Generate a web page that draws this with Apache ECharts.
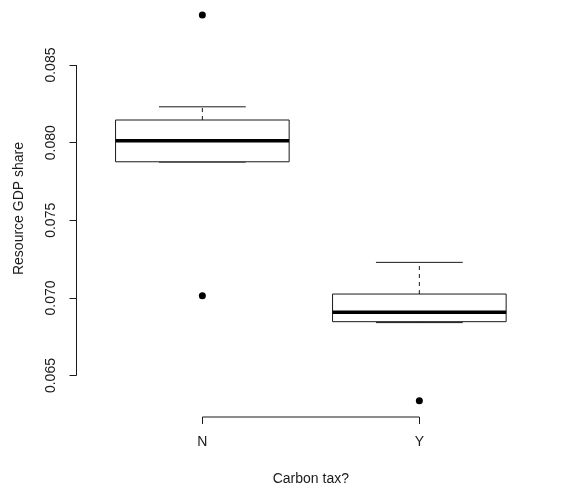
<!DOCTYPE html>
<html>
<head>
<meta charset="utf-8">
<script src="https://cdn.jsdelivr.net/npm/echarts@6/dist/echarts.min.js"></script>
<style>
  html, body { margin: 0; padding: 0; background: #ffffff; }
  #chart { width: 565px; height: 491px; }
</style>
</head>
<body>
<div id="chart"></div>
<script>
// Groups on the x axis
const categories = ['N', 'Y'];
// Five-number summaries per group: lower whisker, Q1, median, Q3, upper whisker
const lowerWhisker = [0.07875, 0.06841];
const q1Values     = [0.07877, 0.06847];
const medians      = [0.08012, 0.06907];
const q3Values     = [0.08146, 0.07025];
const upperWhisker = [0.08231, 0.07229];
// Points beyond the whiskers: [group index, value]
const outliers = [[0, 0.07014], [0, 0.08822], [1, 0.06338]];
// Tick values on the y axis
const yTicks = [0.065, 0.070, 0.075, 0.080, 0.085];

const xPos = i => i + 1;
const boxWidth = 0.8;
const ink = '#1a1a1a';
const font = 'Liberation Sans, Arial, sans-serif';

const boxData = categories.map((c, i) => [
  xPos(i), lowerWhisker[i], q1Values[i], medians[i], q3Values[i], upperWhisker[i]
]);

function renderBox(params, api) {
  const x = api.value(0);
  const lo = api.coord([x, api.value(1)]);
  const q1 = api.coord([x, api.value(2)]);
  const md = api.coord([x, api.value(3)]);
  const q3 = api.coord([x, api.value(4)]);
  const hi = api.coord([x, api.value(5)]);
  const w = api.size([boxWidth, 0])[0];
  const half = w / 2;
  const cap = w / 4;
  const cx = md[0];
  const thin = { stroke: ink, lineWidth: 1, fill: null };
  return {
    type: 'group',
    children: [
      { type: 'line', shape: { x1: cx, y1: q3[1], x2: cx, y2: hi[1] },
        style: { stroke: ink, lineWidth: 1, lineDash: [4, 4] } },
      { type: 'line', shape: { x1: cx, y1: q1[1], x2: cx, y2: lo[1] },
        style: { stroke: ink, lineWidth: 1, lineDash: [4, 4] } },
      { type: 'line', shape: { x1: cx - cap, y1: hi[1], x2: cx + cap, y2: hi[1] }, style: thin },
      { type: 'line', shape: { x1: cx - cap, y1: lo[1], x2: cx + cap, y2: lo[1] }, style: thin },
      { type: 'rect', shape: { x: cx - half, y: q3[1], width: w, height: q1[1] - q3[1] },
        style: { stroke: ink, lineWidth: 1, fill: '#ffffff' } },
      { type: 'line', shape: { x1: cx - half, y1: md[1], x2: cx + half, y2: md[1] },
        style: { stroke: '#000000', lineWidth: 3.5 } }
    ]
  };
}

// Axis lines that span only the ticked range
function renderFrame(params, api) {
  const yA = api.coord([0.42, yTicks[0]]);
  const yB = api.coord([0.42, yTicks[yTicks.length - 1]]);
  const xA = api.coord([xPos(0), 0.06233]);
  const xB = api.coord([xPos(categories.length - 1), 0.06233]);
  return {
    type: 'group',
    children: [
      { type: 'line', shape: { x1: yA[0], y1: yA[1], x2: yB[0], y2: yB[1] },
        style: { stroke: ink, lineWidth: 1 } },
      { type: 'line', shape: { x1: xA[0], y1: xA[1], x2: xB[0], y2: xB[1] },
        style: { stroke: ink, lineWidth: 1 } }
    ]
  };
}

const chart = echarts.init(document.getElementById('chart'), null, { renderer: 'canvas' });
chart.setOption({
  backgroundColor: '#ffffff',
  animation: false,
  grid: { left: 76.5, right: 19.8, top: 0, bottom: 74, containLabel: false },
  xAxis: {
    type: 'value', min: 0.42, max: 2.58,
    name: 'Carbon tax?', nameLocation: 'middle', nameGap: 55,
    nameTextStyle: { fontFamily: font, fontSize: 14, color: ink },
    axisLine: { show: false },
    splitLine: { show: false },
    axisTick: { show: true, length: 7, customValues: categories.map((c, i) => xPos(i)),
      lineStyle: { color: ink, width: 1 } },
    axisLabel: { show: true, margin: 18, customValues: categories.map((c, i) => xPos(i)),
      formatter: v => categories[Math.round(v) - 1],
      fontFamily: font, fontSize: 14, color: ink }
  },
  yAxis: {
    type: 'value', min: 0.06233, max: 0.08919,
    name: 'Resource GDP share', nameLocation: 'middle', nameGap: 50,
    nameTextStyle: { fontFamily: font, fontSize: 14, color: ink },
    axisLine: { show: false },
    splitLine: { show: false },
    axisTick: { show: true, length: 7, customValues: yTicks,
      lineStyle: { color: ink, width: 1 } },
    axisLabel: { show: true, margin: 18, rotate: 90, customValues: yTicks,
      formatter: v => v.toFixed(3),
      fontFamily: font, fontSize: 14, color: ink }
  },
  series: [
    { type: 'custom', renderItem: renderFrame, data: [[1, 0.07]], clip: false, silent: true },
    { type: 'custom', renderItem: renderBox, data: boxData, silent: true,
      encode: { x: 0, y: [1, 2, 3, 4, 5] } },
    { type: 'scatter', data: outliers.map(o => [xPos(o[0]), o[1]]),
      symbol: 'circle', symbolSize: 7, itemStyle: { color: '#000000', opacity: 1 }, silent: true }
  ]
});
</script>
</body>
</html>
